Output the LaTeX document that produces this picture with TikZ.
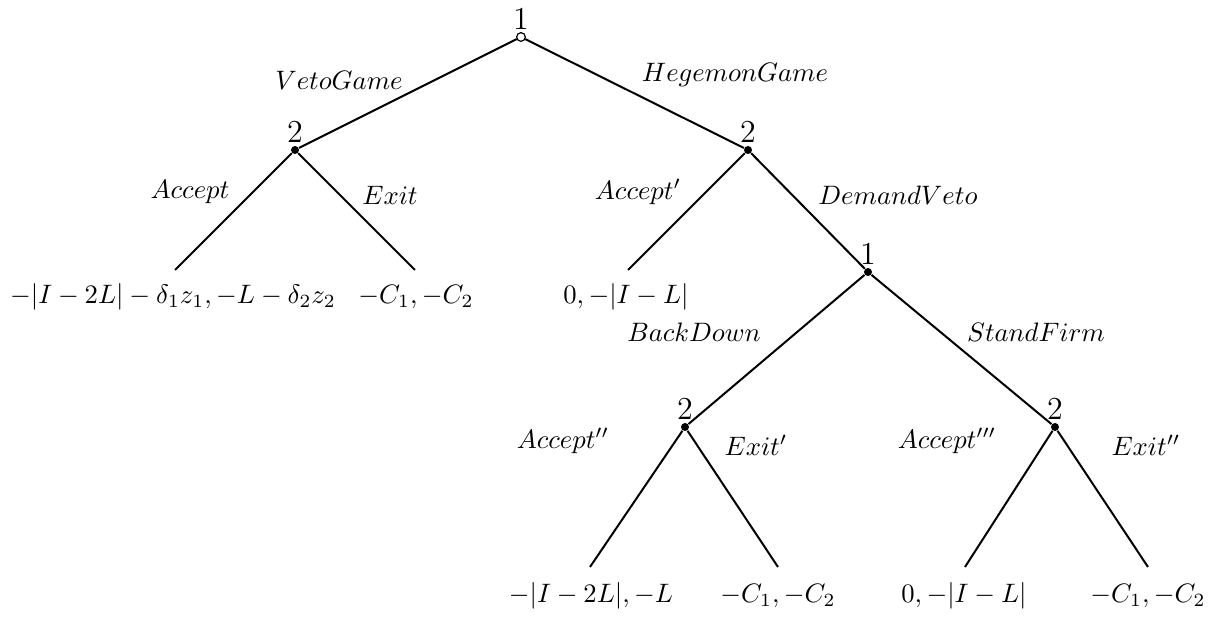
\documentclass[tikz,border=0pt]{standalone}
\begin{document}
\begin{tikzpicture}[x=0.375pt,y=-0.375pt,
  edge/.style={line width=0.75pt},
  dec/.style={circle,fill=black,inner sep=0pt,minimum size=3pt},
  rootdec/.style={circle,draw,fill=white,line width=0.4pt,inner sep=0pt,minimum size=3.2pt},
  pl/.style={label={[font=\large,label distance=-2.5pt]above:#1}},
  pay/.style={inner sep=0pt},
  act/.style={inner sep=0pt}]
\useasboundingbox (0,0) rectangle (1213,618);
% decision nodes
\node[rootdec,pl=1] (r) at (521,37) {};
\node[dec,pl=2] (a) at (295,150) {};
\node[dec,pl=2] (b) at (748,150) {};
\node[dec,pl=1] (c) at (868,272) {};
\node[dec,pl=2] (d) at (685,427) {};
\node[dec,pl=2] (e) at (1055,427) {};
% leaf ends
\coordinate (a1) at (175,270);
\coordinate (a2) at (415,270);
\coordinate (b1) at (628,270);
\coordinate (d1) at (590,567);
\coordinate (d2) at (778,567);
\coordinate (e1) at (965,567);
\coordinate (e2) at (1148,567);
% edges
\draw[edge] (a) -- (r) -- (b);
\draw[edge] (a1) -- (a) -- (a2);
\draw[edge] (b1) -- (b) -- (c);
\draw[edge] (d) -- (c) -- (e);
\draw[edge] (d1) -- (d) -- (d2);
\draw[edge] (e1) -- (e) -- (e2);
\node[rootdec] at (r) {};
% payoffs
\node[pay] (p1) at (173,297) {$-|I-2L|-\delta_1z_1,-L-\delta_2z_2$};
\node[pay] (p2) at (416,297) {$-C_1,-C_2$};
\node[pay] (p3) at (626,297) {$0,-|I-L|$};
\node[pay] (p4) at (591,596) {$-|I-2L|,-L$};
\node[pay] (p5) at (778,596) {$-C_1,-C_2$};
\node[pay] (p6) at (964,596) {$0,-|I-L|$};
\node[pay] (p7) at (1148,596) {$-C_1,-C_2$};
% action labels
\node[act] at (339,80) {$VetoGame$};
\node[act] at (735,75) {$HegemonGame$};
\node[act] at (190,192) {$Accept$};
\node[act] at (390,195) {$Exit$};
\node[act] at (638,192) {$Accept'$};
\node[act] at (898,195) {$DemandVeto$};
\node[act] at (694,332) {$BackDown$};
\node[act] at (1036,332) {$StandFirm$};
\node[act] at (563,441) {$Accept''$};
\node[act] at (756,445) {$Exit'$};
\node[act] at (947,441) {$Accept'''$};
\node[act] at (1146,445) {$Exit''$};
\end{tikzpicture}
\end{document}
